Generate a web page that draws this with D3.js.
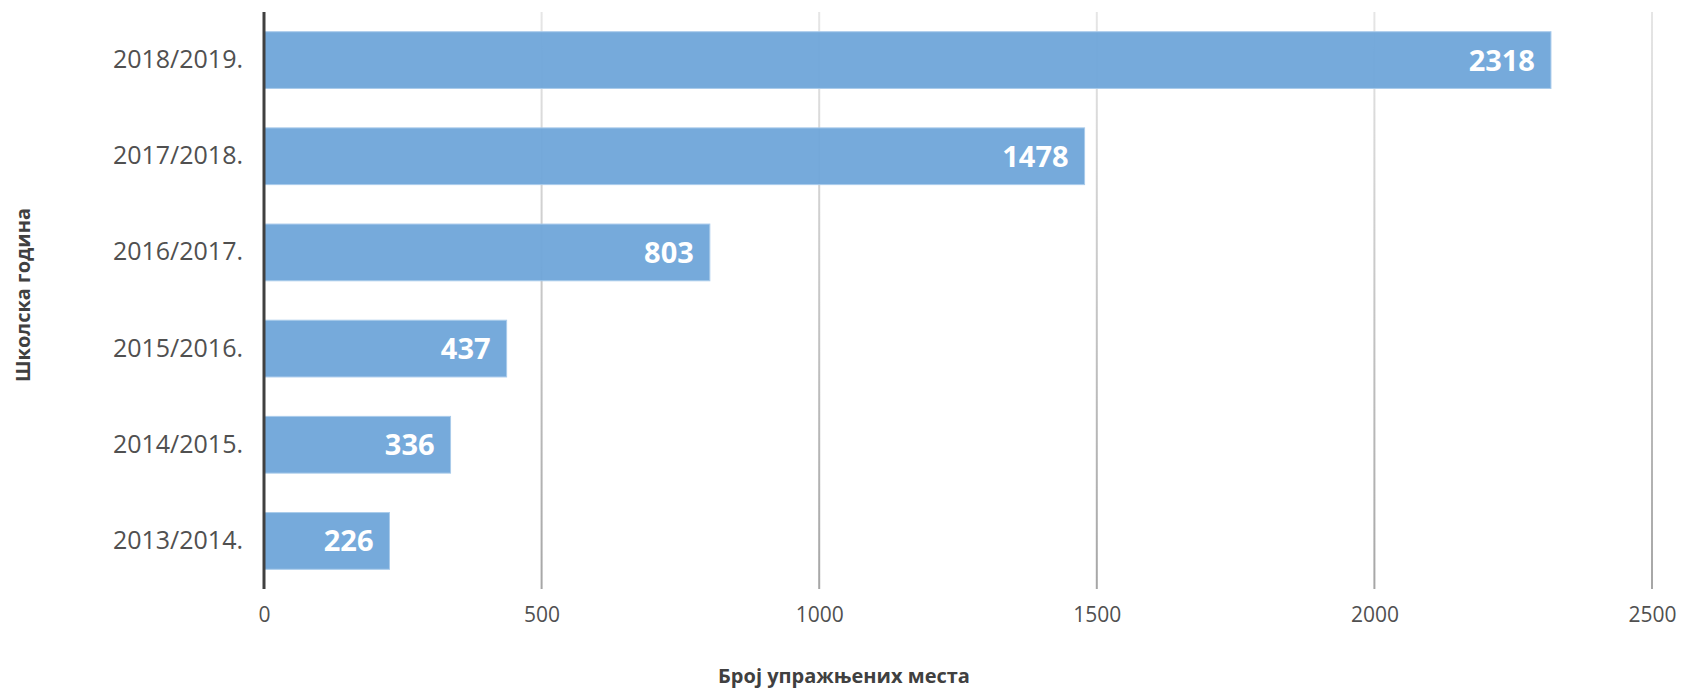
<!DOCTYPE html>
<html><head><meta charset="utf-8">
<script src="https://cdn.jsdelivr.net/npm/d3@7"></script>
<style>body{margin:0;background:#fff}svg{display:block}</style>
</head><body>
<svg id="c" width="1685" height="689"></svg>
<script>
const categories = ["2018/2019.","2017/2018.","2016/2017.","2015/2016.","2014/2015.","2013/2014."];
const values = [2318,1478,803,437,336,226];
const xTicks = [0,500,1000,1500,2000,2500];
const xTitle = "Број упражњених места";
const yTitle = "Школска година";

const svg = d3.select("#c");
const font = "'Open Sans', 'Noto Sans', sans-serif";
const x = d3.scaleLinear().domain([0,2500]).range([264,1652]);
const y = d3.scaleBand().domain(categories).range([12,589]).paddingInner(0.41).paddingOuter(0.205);

const defs = svg.append("defs");
const g = defs.append("linearGradient").attr("id","gg").attr("x1",0).attr("x2",0).attr("y1",0).attr("y2",1);
g.append("stop").attr("offset","0%").attr("stop-color","#e6e6e6");
g.append("stop").attr("offset","100%").attr("stop-color","#a6a6a6");

// gridlines
svg.append("g").selectAll("rect").data(xTicks.slice(1)).join("rect")
  .attr("x",d=>x(d)-1).attr("y",12).attr("width",2).attr("height",577)
  .attr("fill","url(#gg)");

// bars
svg.append("g").selectAll("rect").data(values).join("rect")
  .attr("x",x(0)).attr("y",(d,i)=>y(categories[i]))
  .attr("width",d=>x(d)-x(0)).attr("height",y.bandwidth())
  .attr("fill","#6fa5d9").attr("fill-opacity",0.95)
  .attr("stroke","#a9cbeb").attr("stroke-width",1);

// data labels
svg.append("g").selectAll("text").data(values).join("text")
  .attr("x",d=>x(d)-16).attr("y",(d,i)=>y(categories[i])+y.bandwidth()/2)
  .attr("dy","0.36em").attr("text-anchor","end")
  .attr("font-family",font).attr("font-weight","bold").attr("font-size",29)
  .attr("fill","#fff").text(d=>d);

// y axis line
svg.append("line").attr("x1",x(0)).attr("x2",x(0)).attr("y1",12).attr("y2",589)
  .attr("stroke","#404040").attr("stroke-width",3);

// category labels
const ya = d3.axisLeft(y).tickSize(0).tickPadding(0);
const yg = svg.append("g").attr("transform","translate(243,0)").call(ya);
yg.select(".domain").remove();
yg.selectAll("text").attr("font-family",font).attr("font-size",25).attr("fill","#505050");

// x tick labels
const xa = d3.axisBottom(x).tickValues(xTicks).tickSize(0).tickPadding(0).tickFormat(d3.format("d"));
const xg = svg.append("g").attr("transform","translate(0,607)").call(xa);
xg.select(".domain").remove();
xg.selectAll("text").attr("font-family",font).attr("font-size",21).attr("fill","#505050");

// titles
svg.append("text").attr("x",844).attr("y",676).attr("dy","0.35em").attr("text-anchor","middle")
  .attr("font-family",font).attr("font-weight","bold").attr("font-size",20).attr("fill","#404040").text(xTitle);
svg.append("text").attr("transform","translate(23,295) rotate(-90)").attr("dy","0.35em").attr("text-anchor","middle")
  .attr("font-family",font).attr("font-weight","bold").attr("font-size",20).attr("fill","#404040").text(yTitle);
</script>
</body></html>
